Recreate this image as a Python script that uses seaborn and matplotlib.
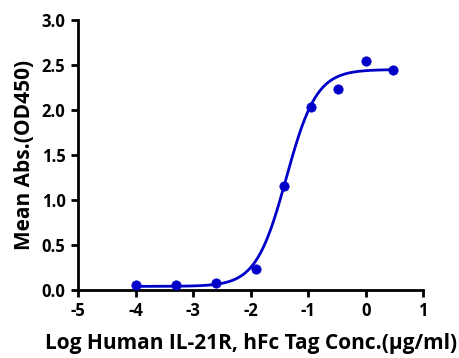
import numpy as np
import pandas as pd
import matplotlib
matplotlib.use("Agg")
import matplotlib.pyplot as plt
import seaborn as sns

# measured points (log conc, OD450)
log_conc = [-4.0, -3.3, -2.6, -1.9, -1.42, -0.95, -0.48, 0.0, 0.48]
od450 = [0.055, 0.05, 0.08, 0.23, 1.16, 2.03, 2.23, 2.54, 2.45]

# 4PL fit parameters
fit_bottom = 0.04
fit_top = 2.45
fit_logec50 = -1.38
fit_hill = 1.65

sns.set_theme(style="ticks")
plt.rcParams['font.family'] = ['Open Sans', 'DejaVu Sans']
plt.rcParams['font.weight'] = 'bold'
plt.rcParams['axes.unicode_minus'] = False
plt.rcParams['text.color'] = 'black'
plt.rcParams['axes.labelcolor'] = 'black'
plt.rcParams['xtick.color'] = 'black'
plt.rcParams['ytick.color'] = 'black'

df = pd.DataFrame({'x': log_conc, 'y': od450})
xs = np.linspace(min(log_conc), max(log_conc), 300)
curve = pd.DataFrame({
    'x': xs,
    'y': fit_bottom + (fit_top - fit_bottom) / (1 + 10 ** ((fit_logec50 - xs) * fit_hill)),
})

blue = '#0000C8'
fig = plt.figure(figsize=(4.59, 3.58), dpi=100)
ax = fig.add_axes([0.170, 0.190, 0.752, 0.754])

sns.lineplot(data=curve, x='x', y='y', color=blue, linewidth=2, ax=ax)
sns.scatterplot(data=df, x='x', y='y', color=blue, s=45, edgecolor=blue, ax=ax, zorder=3)

ax.set_xlim(-5, 1)
ax.set_ylim(0, 3.0)
ax.set_xticks(range(-5, 2))
ax.set_yticks(np.arange(0, 3.01, 0.5))
ax.set_yticklabels([f"{v:.1f}" for v in np.arange(0, 3.01, 0.5)])
for s in ['top', 'right']:
    ax.spines[s].set_visible(False)
for s in ['left', 'bottom']:
    ax.spines[s].set_linewidth(2)
    ax.spines[s].set_color('black')
ax.tick_params(width=2, length=5, labelsize=12, color='black', labelcolor='black', pad=4)
for lab in ax.get_xticklabels() + ax.get_yticklabels():
    lab.set_fontweight('bold')
ax.set_xlabel('Log Human IL-21R, hFc Tag Conc.(\u03bcg/ml)', fontsize=15, fontweight='bold', labelpad=9, color='black')
ax.set_ylabel('Mean Abs.(OD450)', fontsize=15, fontweight='bold', labelpad=5, color='black')

fig.savefig('out.png', dpi=100)
